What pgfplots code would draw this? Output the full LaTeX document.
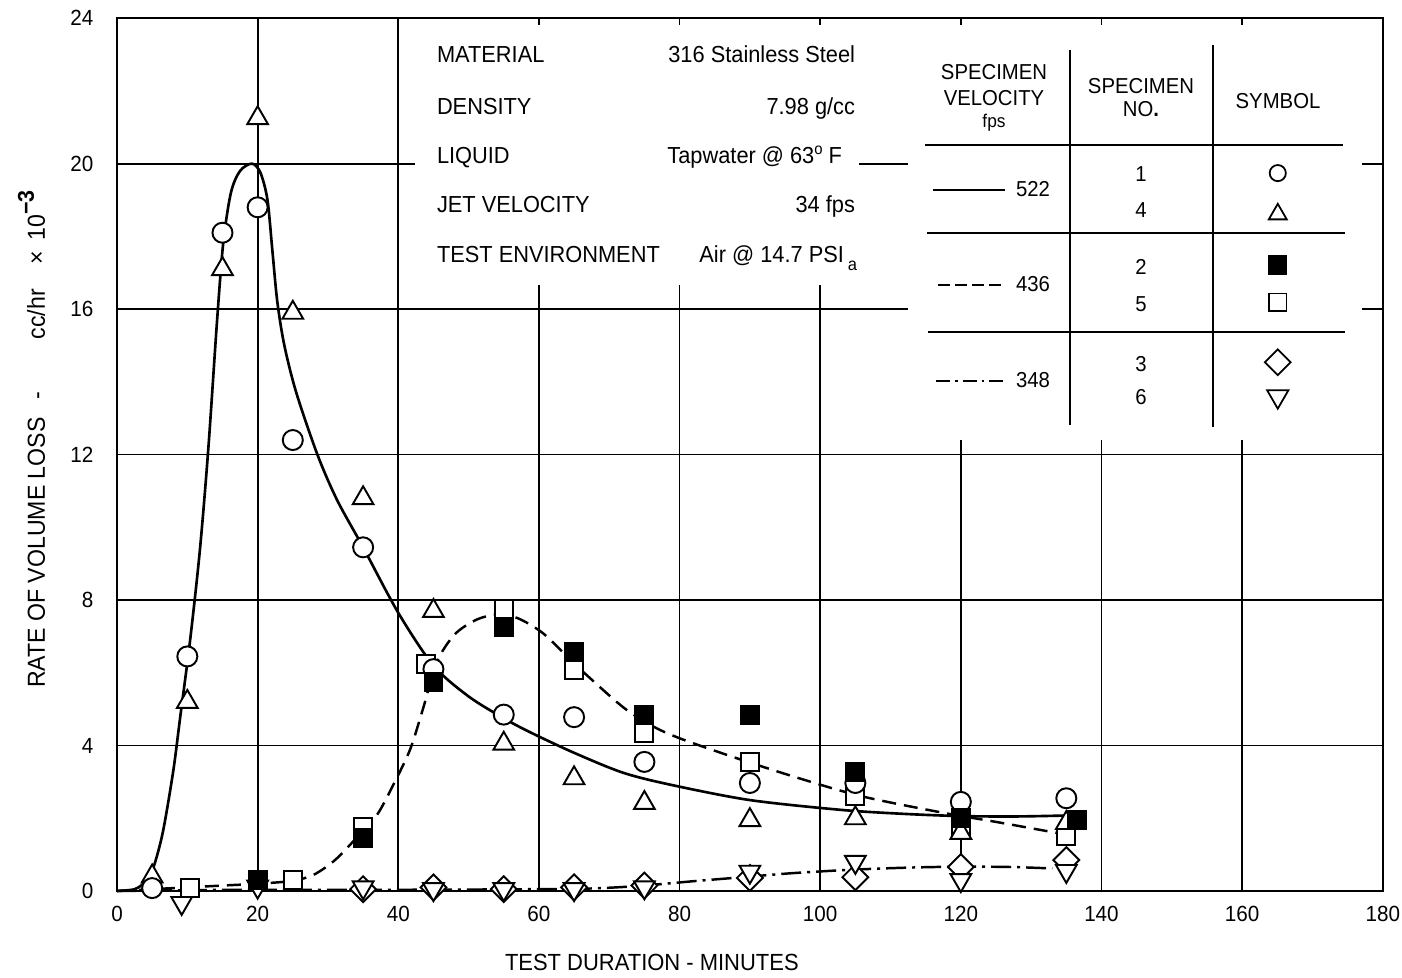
\documentclass[border=0pt]{standalone}
\usepackage{fontspec}
\setmainfont{Liberation Sans}[FakeStretch=0.94]
\usepackage{pgfplots}
\pgfplotsset{compat=1.18}
\begin{document}
\begin{tikzpicture}
\begin{axis}[
  name=ax,
  scale only axis,
  width=25.32cm, height=17.46cm,
  xmin=0, xmax=180, ymin=0, ymax=24,
  xtick={0,20,...,180}, ytick={0,4,...,24},
  grid=major,
  major grid style={black, line width=1pt},
  axis line style={black, line width=1.3pt},
  major tick length=0pt,
  tick label style={font=\fontsize{12.5}{15}\selectfont},
  /pgf/number format/assume math mode=true,
  xticklabel style={yshift=-0.17cm},
  yticklabel style={xshift=-0.35cm},
  clip=false,
]
% white patches behind the text blocks
\fill[white] (axis cs:42.4,16.66) rectangle (axis cs:105.5,23.8);
\fill[white] (axis cs:112.5,12.4) rectangle (axis cs:177.0,23.8);

% curves
\addplot[black, line width=1.5pt, smooth] coordinates {
(0,0) (2.5,0.05) (4,0.25) (5.1,0.6) (6.5,1.6) (8,3.3) (9,4.8) (10.4,6.9) (11.8,9.4) (13,12.2) (14.2,15.6) (15.1,17.8) (16.2,19.2) (17.5,19.8) (19.2,20.0) (20.4,19.75) (21.4,19.0) (22.1,17.6) (22.8,16.2) (23.8,15.0) (25.5,13.7) (28.5,12.0) (31.3,10.75) (35,9.45) (40,7.65) (45,6.2) (50,5.35) (55,4.75) (58.7,4.37) (65,3.8) (72,3.25) (79,2.91) (90,2.5) (103,2.23) (112,2.12) (120,2.06) (128,2.05) (136,2.08)
};
\addplot[black, line width=1.4pt, smooth, dash pattern=on 0.28cm off 0.16cm] coordinates {
(0,0) (5,0.05) (10,0.1) (15,0.15) (20,0.2) (25,0.28) (28,0.45) (31,0.85) (34,1.45) (37,2.1) (39.5,3.0) (41.7,3.9) (43.5,5.0) (45.5,6.3) (48,7.05) (51,7.45) (54,7.6) (57,7.5) (60.5,7.1) (64,6.45) (67,5.9) (72,5.05) (76,4.55) (80,4.2) (88,3.66) (97,3.1) (106,2.6) (117.5,2.15) (125,1.9) (133,1.62) (135,1.55)
};
\addplot[black, line width=1.4pt, smooth, dash pattern=on 0.4cm off 0.12cm on 0.06cm off 0.12cm] coordinates {
(0,0) (15,0.03) (30,0.03) (50,0.04) (65,0.06) (70,0.09) (75,0.15) (82,0.27) (89,0.38) (96,0.49) (104,0.58) (112,0.64) (120,0.67) (127,0.66) (133,0.62)
};

% specimen 3: diamonds
\addplot[only marks, mark=square*, mark size=5.2pt, mark options={rotate=45, fill=white, draw=black, line width=1.1pt}] coordinates {
(35,0.05) (45,0.1) (55,0.05) (65,0.1) (75,0.15) (90,0.36) (105,0.38) (120,0.66) (135,0.85)
};
% specimen 6: inverted triangles
\addplot[only marks, mark=triangle*, mark size=6.8pt, mark options={rotate=180, fill=white, draw=black, line width=1.1pt}] coordinates {
(9.2,-0.33) (20,0.12) (35,0.1) (45,0.05) (55,0.05) (65,0.05) (75,0.1) (90,0.53) (105,0.8) (120,0.3) (135,0.55)
};
% specimen 5: open squares
\addplot[only marks, mark=square*, mark size=5.1pt, mark options={fill=white, draw=black, line width=1.1pt}] coordinates {
(10.4,0.08) (25,0.3) (35,1.75) (44,6.25) (55,7.75) (65,6.07) (75,4.34) (90,3.55) (105,2.6) (120,1.77) (135,1.5)
};
% specimen 4: triangles
\addplot[only marks, mark=triangle*, mark size=6.8pt, mark options={fill=white, draw=black, line width=1.1pt}] coordinates {
(5,0.4) (10,5.2) (15,17.1) (20,21.25) (25,15.9) (35,10.8) (45,7.7) (55,4.05) (65,3.1) (75,2.42) (90,1.95) (105,2.0) (120,1.6) (135,1.87)
};
% specimen 1: circles
\addplot[only marks, mark=*, mark size=5.7pt, mark options={fill=white, draw=black, line width=1.1pt}] coordinates {
(5,0.08) (10,6.45) (15,18.1) (20,18.8) (25,12.4) (35,9.45) (45,6.1) (55,4.85) (65,4.78) (75,3.55) (90,2.97) (105,2.97) (120,2.45) (135,2.55)
};
% specimen 2: filled squares
\addplot[only marks, mark=square*, mark size=5.1pt, mark options={fill=black, draw=black, line width=1.1pt}] coordinates {
(20,0.3) (35,1.45) (45,5.75) (55,7.25) (65,6.58) (75,4.84) (90,4.84) (105,3.27) (120,2.0) (136.5,1.95)
};

% legend symbols
\addplot[only marks, mark=*, mark size=4.6pt, mark options={fill=white, draw=black, line width=1pt}] coordinates {(165.07,19.74)};
\addplot[only marks, mark=triangle*, mark size=5.9pt, mark options={fill=white, draw=black, line width=1pt}] coordinates {(165.07,18.61)};
\addplot[only marks, mark=square*, mark size=5.0pt, mark options={fill=black, draw=black, line width=1pt}] coordinates {(165.07,17.21)};
\addplot[only marks, mark=square*, mark size=5.0pt, mark options={fill=white, draw=black, line width=1pt}] coordinates {(165.07,16.19)};
\addplot[only marks, mark=square*, mark size=5.2pt, mark options={rotate=45, fill=white, draw=black, line width=1pt}] coordinates {(165.07,14.54)};
\addplot[only marks, mark=triangle*, mark size=7.0pt, mark options={rotate=180, fill=white, draw=black, line width=1pt}] coordinates {(165.07,13.60)};
\end{axis}

\begin{scope}[shift={(ax.south west)}, x=0.02cm, y=-0.02cm, shift={(-117,-891)}]
\tikzset{every node/.style={inner sep=0pt, outer sep=0pt}}
% axis labels
\node[anchor=base west, font=\fontsize{13.3}{15}\selectfont] at (505,970) {TEST DURATION - MINUTES};
\node[rotate=90, anchor=base west, font=\fontsize{14}{16}\selectfont] at (45,688)
  {RATE OF VOLUME LOSS\hspace{10pt}-\hspace{30pt}cc/hr\hspace{14pt}×\hspace{6pt}10\raisebox{0.85ex}{\fontsize{13}{14}\selectfont\bfseries −3}};
% info block
\begin{scope}[every node/.append style={font=\fontsize{13.2}{15}\selectfont}]
\node[anchor=base west] at (437,63) {MATERIAL};
\node[anchor=base east] at (855,63) {316 Stainless Steel};
\node[anchor=base west] at (437,115) {DENSITY};
\node[anchor=base east] at (855,115) {7.98 g/cc};
\node[anchor=base west] at (437,164) {LIQUID};
\node[anchor=base east] at (842,164) {Tapwater @ 63\raisebox{0.8ex}{\fontsize{9}{10}\selectfont o} F};
\node[anchor=base west] at (437,213) {JET VELOCITY};
\node[anchor=base east] at (855,213) {34 fps};
\node[anchor=base west] at (437,263) {TEST ENVIRONMENT};
\node[anchor=base east] at (857,263) {Air @ 14.7 PSI\,\raisebox{-0.6ex}{\fontsize{10}{12}\selectfont a}};
\end{scope}
% table
\begin{scope}[every node/.append style={font=\fontsize{12.3}{14}\selectfont}]
\node[anchor=base] at (994,80) {SPECIMEN};
\node[anchor=base] at (994,106) {VELOCITY};
\node[anchor=base, font=\fontsize{10.5}{12}\selectfont] at (994,128) {fps};
\node[anchor=base] at (1141,94) {SPECIMEN};
\node[anchor=base] at (1141,117) {NO\textbf{.}};
\node[anchor=base] at (1278,109) {SYMBOL};
\node[anchor=base] at (1141,182) {1};
\node[anchor=base] at (1141,218) {4};
\node[anchor=base] at (1141,275) {2};
\node[anchor=base] at (1141,312) {5};
\node[anchor=base] at (1141,372) {3};
\node[anchor=base] at (1141,405) {6};
\node[anchor=base west] at (1016,197) {522};
\node[anchor=base west] at (1016,292) {436};
\node[anchor=base west] at (1016,388) {348};
\end{scope}
\draw[line width=1pt] (925,145)--(1343,145);
\draw[line width=1pt] (927,233)--(1345,233);
\draw[line width=1pt] (928,332)--(1345,332);
\draw[line width=1pt] (1070,50)--(1070,425);
\draw[line width=1pt] (1213,45)--(1213,427);
\draw[line width=1.5pt] (933,190)--(1005,190);
\draw[line width=1.4pt, dash pattern=on 0.24cm off 0.1cm] (938,285)--(1005,285);
\draw[line width=1.4pt, dash pattern=on 0.28cm off 0.1cm on 0.05cm off 0.1cm] (936,381)--(1005,381);
\end{scope}
\pgfresetboundingbox
\begin{scope}[shift={(ax.south west)}, x=0.02cm, y=-0.02cm, shift={(-117,-891)}]
\path[use as bounding box] (0,0) rectangle (1402,977);
\end{scope}
\end{tikzpicture}
\end{document}
